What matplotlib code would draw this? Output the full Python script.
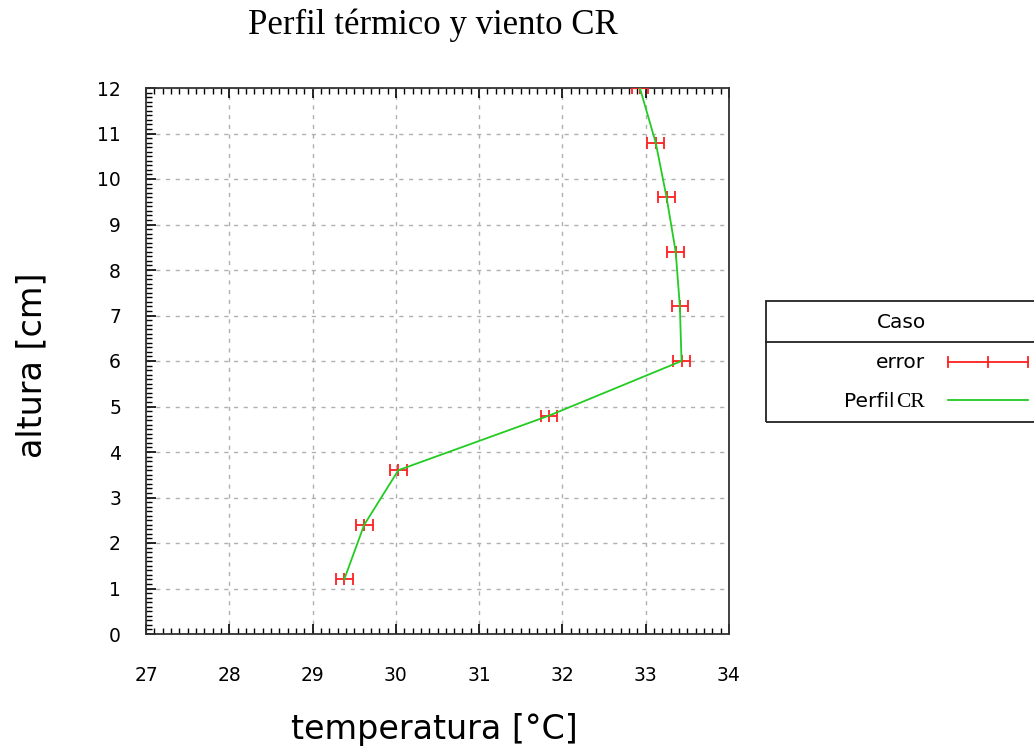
import matplotlib
matplotlib.use("Agg")
import matplotlib.pyplot as plt
from matplotlib.lines import Line2D
from matplotlib.patches import Rectangle
from matplotlib.ticker import MultipleLocator

# data
altura = [1.2, 2.4, 3.6, 4.8, 6.0, 7.2, 8.4, 9.6, 10.8, 12.0]
temperatura = [29.38, 29.62, 30.03, 31.84, 33.43, 33.41, 33.36, 33.25, 33.12, 32.93]
error_temp = [0.1, 0.1, 0.1, 0.1, 0.1, 0.1, 0.1, 0.1, 0.1, 0.1]

x_ticks = [27, 28, 29, 30, 31, 32, 33, 34]
y_ticks = list(range(0, 13))

fig = plt.figure(figsize=(10.34, 7.52), dpi=100)
ax = fig.add_axes([146 / 1034, 118 / 752, 583 / 1034, 546 / 752])

ax.errorbar(temperatura, altura, xerr=error_temp, fmt="none", ecolor="#ff2020",
            elinewidth=1.3, capsize=4, capthick=1.3, zorder=3)
ax.plot(temperatura, altura, linestyle="none", marker="|", color="#ff2020",
        markersize=8, markeredgewidth=1.3, zorder=3)
ax.plot(temperatura, altura, color="#22cc22", linewidth=1.3, zorder=4)

ax.set_xlim(27, 34)
ax.set_ylim(0, 12)
ax.set_xticks(x_ticks)
ax.set_yticks(y_ticks)
ax.xaxis.set_minor_locator(MultipleLocator(0.1))
ax.yaxis.set_minor_locator(MultipleLocator(0.1))
ax.tick_params(axis="both", which="both", direction="in", top=True, right=False,
               labelsize=13.5, colors="black")
ax.tick_params(axis="x", which="major", length=7, width=1.2, pad=23)
ax.tick_params(axis="y", which="major", length=7, width=1.2, pad=18)
ax.tick_params(which="minor", length=4, width=1.0)
ax.grid(True, which="major", color="#b0b0b0", linestyle=(0, (3, 4)), linewidth=1.0)
for s in ax.spines.values():
    s.set_linewidth(1.3)
    s.set_color("#333333")

fig.text(433 / 1034, 1 - 25 / 752, "Perfil térmico y viento CR", ha="center", va="center",
         fontsize=25, family="Liberation Serif")
fig.text(434 / 1034, 1 - 730 / 752, "temperatura [°C]", ha="center", va="center",
         fontsize=24)
fig.text(32 / 1034, 1 - 365 / 752, "altura [cm]", ha="center", va="center",
         fontsize=24, rotation=90)

# legend box drawn outside the axes
lx0, lx1 = 766 / 1034, 1.0
ly_top, ly_bot, ly_mid = 1 - 301 / 752, 1 - 422 / 752, 1 - 342 / 752
fig.add_artist(Rectangle((lx0, ly_bot), lx1 - lx0 + 0.01, ly_top - ly_bot, transform=fig.transFigure,
                         fill=False, edgecolor="#222222", linewidth=1.3))
fig.add_artist(Line2D([lx0, lx1], [ly_mid, ly_mid], transform=fig.transFigure,
                      color="#222222", linewidth=1.3))
fig.text(901 / 1034, 1 - 322 / 752, "Caso", ha="center", va="center", fontsize=14.5)
fig.text(925 / 1034, 1 - 362 / 752, "error", ha="right", va="center", fontsize=14.5)
fig.text(894 / 1034, 1 - 407 / 752, "Perfil", ha="right", va="baseline", fontsize=14.5)
fig.text(925 / 1034, 1 - 407 / 752, "CR", ha="right", va="baseline", fontsize=15.5,
         family="Liberation Serif")

ey = 1 - 362 / 752
fig.add_artist(Line2D([948 / 1034, 1028 / 1034], [ey, ey], transform=fig.transFigure,
                      color="#ff2020", linewidth=1.3))
for xx in (948, 988, 1028):
    fig.add_artist(Line2D([xx / 1034, xx / 1034], [ey - 5 / 752, ey + 5 / 752],
                          transform=fig.transFigure, color="#ff2020", linewidth=1.3))
py = 1 - 400 / 752
fig.add_artist(Line2D([948 / 1034, 1028 / 1034], [py, py], transform=fig.transFigure,
                      color="#22cc22", linewidth=1.3))

fig.savefig("out.png", dpi=100, facecolor="white")
